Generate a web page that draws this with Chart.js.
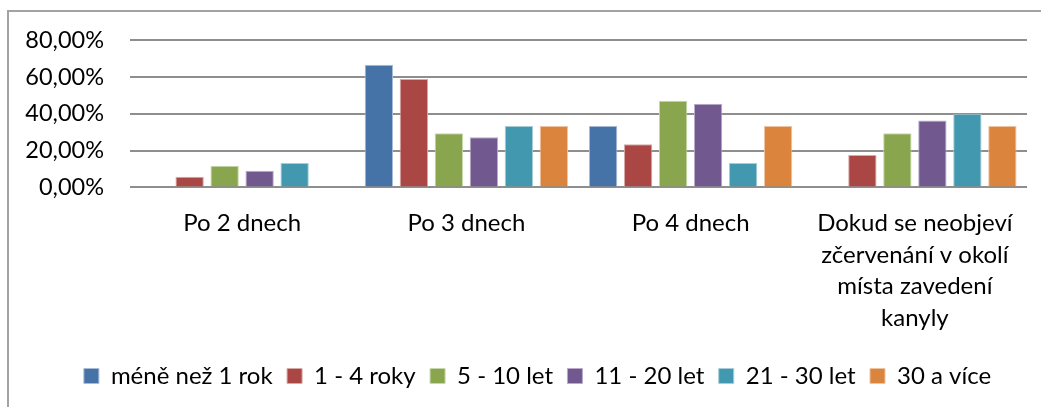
<!DOCTYPE html>
<html lang="cs">
<head>
<meta charset="utf-8">
<title>Interval výměny kanyly podle délky praxe</title>
<script src="https://cdn.jsdelivr.net/npm/chart.js@4/dist/chart.umd.min.js"></script>
<style>
  html, body { margin: 0; padding: 0; background: #ffffff; }
  #wrap { position: relative; width: 1041px; height: 407px; }
  canvas { display: block; }
</style>
</head>
<body>
<div id="wrap"><canvas id="chart" width="1041" height="407"></canvas></div>
<script>
// Categories (answers) and values in percent for each length-of-practice group
const categories = [
  'Po 2 dnech',
  'Po 3 dnech',
  'Po 4 dnech',
  ['Dokud se neobjeví', 'zčervenání v okolí', 'místa zavedení', 'kanyly']
];
const seriesNames = ['méně než 1 rok', '1 - 4 roky', '5 - 10 let', '11 - 20 let', '21 - 30 let', '30 a více'];
const lessThan1 = [0, 66.67, 33.33, 0];
const years1to4 = [5.88, 58.82, 23.53, 17.65];
const years5to10 = [11.76, 29.41, 47.06, 29.41];
const years11to20 = [9.09, 27.27, 45.45, 36.36];
const years21to30 = [13.33, 33.33, 13.33, 40.00];
const years30plus = [0, 33.33, 33.33, 33.33];
const yTicks = [0, 20, 40, 60, 80];

const fills = ['#4572A7', '#AA4643', '#89A54E', '#71588F', '#4198AF', '#DB843D'];
const edges = ['#a9bcd6', '#d9a9a8', '#c9d7ad', '#b9acca', '#a6cdd8', '#eec4a1'];
const seriesValues = [lessThan1, years1to4, years5to10, years11to20, years21to30, years30plus];

const FONT = 'Lato, "Open Sans", sans-serif';

// Thin grey frame along the left and top edges
const framePlugin = {
  id: 'frame',
  beforeDraw(chart) {
    const ctx = chart.ctx;
    ctx.save();
    ctx.fillStyle = '#a3a3a3';
    ctx.fillRect(7, 10, 2, chart.height - 10);
    ctx.fillRect(7, 10, chart.width - 7, 2);
    ctx.restore();
  }
};

// Centre the legend row under the plot area rather than the whole canvas
const legendShift = {
  id: 'legendShift',
  afterLayout(chart) {
    const lg = chart.legend;
    if (!lg) return;
    const dx = 24;
    lg.left += dx;
    lg.right += dx;
  }
};

new Chart(document.getElementById('chart'), {
  type: 'bar',
  data: {
    labels: categories,
    datasets: seriesNames.map((name, i) => ({
      label: name,
      data: seriesValues[i],
      backgroundColor: fills[i],
      borderColor: edges[i],
      borderWidth: 1,
      barPercentage: 0.81,
      categoryPercentage: 0.9365
    }))
  },
  options: {
    responsive: false,
    animation: false,
    devicePixelRatio: 1,
    layout: { padding: { top: 40, right: 14, bottom: 9, left: 0 } },
    plugins: {
      tooltip: { enabled: false },
      legend: {
        position: 'bottom',
        labels: {
          boxWidth: 15,
          boxHeight: 15,
          padding: 14.4,
          color: '#000000',
          font: { family: FONT, size: 24 }
        }
      }
    },
    scales: {
      x: {
        grid: { display: false, drawTicks: false },
        border: { display: false },
        ticks: {
          color: '#000000',
          padding: 20,
          maxRotation: 0,
          autoSkip: false,
          font: { family: FONT, size: 24, lineHeight: 1.32 }
        },
        afterFit(scale) { scale.height = 162.1; }
      },
      y: {
        min: 0,
        max: 80,
        afterBuildTicks(scale) { scale.ticks = yTicks.map(v => ({ value: v })); },
        grid: { color: '#8e8e8e', lineWidth: 2, drawTicks: false },
        border: { display: false },
        ticks: {
          color: '#000000',
          padding: 26,
          font: { family: FONT, size: 23.5 },
          callback: v => v.toFixed(2).replace('.', ',') + '%'
        },
        afterFit(scale) { scale.width = 130; }
      }
    }
  },
  plugins: [framePlugin, legendShift]
});
</script>
</body>
</html>
